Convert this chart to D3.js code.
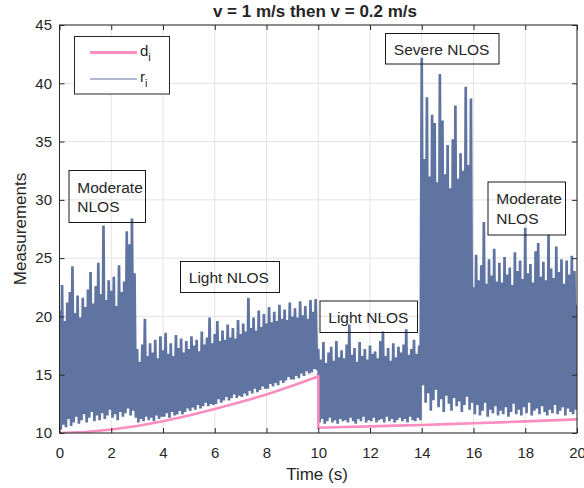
<!DOCTYPE html>
<html><head><meta charset="utf-8">
<script src="https://cdn.jsdelivr.net/npm/d3@7"></script>
<style>
body{margin:0;background:#fff}
svg{display:block}
text{font-family:"Liberation Sans",Arial,Helvetica,sans-serif;fill:#262626}
</style>
</head><body>
<svg id="chart" width="584" height="488"></svg>
<script>
// ---------- data ----------
const titleText = "v = 1 m/s then v = 0.2 m/s";
const xLabelText = "Time (s)";
const yLabelText = "Measurements";
const xTickValues = [0, 2, 4, 6, 8, 10, 12, 14, 16, 18, 20];
const yTickValues = [10, 15, 20, 25, 30, 35, 40, 45];

// true distance d_i (s, value)
const dTime = [0, 1, 2, 3, 4, 5, 6, 7, 8, 9, 10, 10, 11, 12, 13, 14, 15, 16, 17, 18, 19, 20];
const dValue = [10.0, 10.08, 10.3, 10.6, 11.0, 11.5, 12.05, 12.65, 13.3, 14.05, 14.85,
                10.45, 10.52, 10.57, 10.63, 10.69, 10.76, 10.83, 10.91, 11.0, 11.08, 11.17];

// measured range r_i: sample interval, local peaks (at t = k*step) and troughs (at t = k*step + step/2)
const rStep = 0.1;
const rPeaks = [
  // 0 - 3 s  (moderate NLOS)
  20.5, 22.7, 19.6, 21.2, 22.1, 24.3, 20.3, 21.8, 19.9, 21.6,
  20.8, 22.3, 23.8, 21.1, 22.6, 24.6, 21.9, 27.8, 21.4, 23.1,
  22.2, 23.4, 20.9, 24.4, 22.1, 23.0, 27.3, 26.2, 28.4, 23.7,
  // 3 - 10 s (light NLOS)
  17.2, 16.1, 17.6, 19.8, 16.6, 17.7, 16.9, 18.0, 16.4, 18.3,
  17.1, 18.6, 16.8, 17.7, 16.6, 18.4, 17.3, 18.1, 16.9, 17.9,
  17.2, 18.3, 17.5, 18.0, 17.0, 18.7, 17.6, 18.2, 19.9, 17.7,
  18.5, 19.6, 17.9, 18.8, 18.0, 19.3, 18.2, 19.0, 18.1, 19.7,
  18.5, 19.4, 18.7, 21.6, 19.0, 19.9, 18.8, 20.5, 19.1, 20.2,
  19.4, 20.8, 19.5, 20.4, 19.6, 21.0, 19.8, 20.6, 19.7, 21.2,
  20.0, 20.7, 19.9, 21.3, 20.1, 20.9, 19.8, 21.4, 20.4, 21.5,
  // 10 - 14 s (light NLOS)
  17.2, 16.3, 17.8, 16.0, 16.9, 17.4, 16.2, 17.9, 16.5, 17.1,
  16.4, 17.6, 19.3, 16.7, 17.3, 16.1, 17.8, 16.6, 17.2, 16.3,
  17.5, 16.8, 17.0, 16.4, 17.9, 18.7, 16.6, 17.3, 16.2, 17.7,
  16.5, 17.4, 16.9, 17.6, 18.9, 16.7, 17.2, 18.0, 16.8, 17.5,
  // 14 - 16 s (severe NLOS)
  42.2, 33.5, 38.8, 32.0, 37.3, 36.6, 31.5, 40.8, 36.8, 32.2,
  34.7, 31.0, 35.2, 38.1, 31.8, 34.0, 32.5, 39.7, 33.0, 38.7,
  // 16 - 20 s (moderate NLOS)
  22.5, 25.3, 23.1, 24.4, 28.1, 22.8, 24.9, 23.5, 25.8, 23.0,
  24.6, 22.9, 25.1, 23.6, 24.2, 22.7, 25.5, 23.9, 24.8, 23.2,
  27.6, 23.7, 24.5, 22.9, 25.6, 26.3, 23.4, 24.7, 23.1, 27.0,
  24.1, 23.3, 26.0, 23.8, 24.9, 22.8, 24.8, 23.6, 25.2, 23.9,
  21.0
];
const rTroughs = [
  10.3, 10.7, 10.5, 11.2, 10.6, 10.9, 11.4, 10.8, 11.1, 11.6,
  10.9, 11.3, 11.8, 11.0, 11.5, 11.1, 11.7, 11.2, 11.5, 12.0,
  11.3, 11.6, 11.1, 11.8, 11.4, 11.7, 12.1, 11.5, 11.9, 11.3,
  10.9, 11.2, 11.0, 11.4, 11.1, 11.3, 11.0, 11.5, 11.2, 11.4,
  11.4, 11.7, 11.3, 11.8, 11.5, 11.6, 11.9, 11.6, 11.8, 12.1,
  11.9, 12.2, 12.0, 12.4, 12.1, 12.3, 12.6, 12.3, 12.5, 12.4,
  12.5, 12.9, 12.6, 12.8, 13.1, 12.8, 13.0, 13.3, 13.0, 13.2,
  13.1, 13.4, 13.2, 13.6, 13.4, 13.8, 13.5, 13.7, 14.0, 13.8,
  13.8, 14.2, 14.0, 14.3, 14.1, 14.5, 14.3, 14.5, 14.8, 14.6,
  14.6, 14.9, 14.7, 15.1, 14.9, 15.3, 15.1, 15.2, 15.5, 15.4,
  10.9, 11.2, 10.8, 11.0, 11.3, 10.9, 11.1, 10.8, 11.2, 11.0,
  11.1, 10.9, 11.3, 11.0, 10.8, 11.2, 11.0, 11.4, 10.9, 11.1,
  11.0, 11.3, 10.9, 11.1, 11.2, 10.9, 11.4, 11.0, 11.2, 10.9,
  11.1, 11.3, 11.0, 11.2, 10.9, 11.4, 11.1, 11.0, 11.3, 11.1,
  14.1, 12.6, 13.4, 11.9, 12.8, 13.7, 12.2, 12.9, 11.8, 13.2,
  12.5, 11.9, 13.0, 12.3, 12.7, 11.8, 12.4, 13.1, 12.0, 12.6,
  11.6, 12.4, 11.5, 11.9, 12.6, 11.4, 12.0, 11.7, 12.3, 11.5,
  11.9, 11.6, 12.2, 11.4, 11.8, 12.5, 11.6, 12.0, 11.5, 12.2,
  11.7, 12.6, 11.5, 11.9, 12.1, 11.6, 12.3, 11.8, 11.5, 12.0,
  11.7, 12.4, 11.6, 11.9, 12.2, 11.5, 12.1, 11.8, 11.6, 12.0
];

const legendLabels = ["d", "r"];
const annotations = [
  {lines: ["Moderate", "NLOS"], box: [69, 170.5, 76.5, 52]},
  {lines: ["Light NLOS"], box: [180.5, 261.5, 99, 31]},
  {lines: ["Severe NLOS"], box: [385.5, 33.5, 113.5, 30.5]},
  {lines: ["Moderate", "NLOS"], box: [488, 182, 77.5, 53]},
  {lines: ["Light NLOS"], box: [320, 301, 97.5, 31.5]}
];

// ---------- layout ----------
const plot = {left: 59.5, right: 577, top: 25, bottom: 433};
const colR = "#6074a1", colD = "#fb8dc1", axisCol = "#262626", gridCol = "#e3e3e3";

const svg = d3.select("#chart");
const x = d3.scaleLinear().domain([0, 20]).range([plot.left, plot.right]);
const y = d3.scaleLinear().domain([10, 45]).range([plot.bottom, plot.top]);

svg.append("defs").append("clipPath").attr("id", "clip")
  .append("rect").attr("x", plot.left).attr("y", plot.top)
  .attr("width", plot.right - plot.left).attr("height", plot.bottom - plot.top);

// grid
const grid = svg.append("g");
grid.selectAll(".gx").data(xTickValues).join("line")
  .attr("x1", d => x(d)).attr("x2", d => x(d))
  .attr("y1", plot.top).attr("y2", plot.bottom)
  .attr("stroke", gridCol).attr("stroke-width", 1);
grid.selectAll(".gy").data(yTickValues).join("line")
  .attr("x1", plot.left).attr("x2", plot.right)
  .attr("y1", d => y(d)).attr("y2", d => y(d))
  .attr("stroke", gridCol).attr("stroke-width", 1);

// r_i series
const rPoints = [];
rTroughs.forEach((v, k) => {
  rPoints.push([k * rStep, rPeaks[k]]);
  rPoints.push([k * rStep + rStep / 2, v]);
});
rPoints.push([rTroughs.length * rStep, rPeaks[rTroughs.length]]);

const line = d3.line().x(d => x(d[0])).y(d => y(d[1]));
const dataG = svg.append("g").attr("clip-path", "url(#clip)");
dataG.append("path").datum(rPoints)
  .attr("d", line).attr("fill", "none")
  .attr("stroke", colR).attr("stroke-width", 2.7)
  .attr("stroke-linejoin", "miter").attr("stroke-miterlimit", 1.2);

// d_i series
const dPoints = dTime.map((t, i) => [t, dValue[i]]);
dataG.append("path").datum(dPoints)
  .attr("d", line).attr("fill", "none")
  .attr("stroke", colD).attr("stroke-width", 2.6);

// axes
const fsTick = "15px";
const axB = d3.axisBottom(x).tickValues(xTickValues).tickSizeInner(-5).tickSizeOuter(0).tickPadding(14);
const axT = d3.axisTop(x).tickValues(xTickValues).tickSizeInner(-5).tickSizeOuter(0).tickFormat("");
const axL = d3.axisLeft(y).tickValues(yTickValues).tickSizeInner(-5).tickSizeOuter(0).tickPadding(7.5);
const axR = d3.axisRight(y).tickValues(yTickValues).tickSizeInner(-5).tickSizeOuter(0).tickFormat("");

function styleAxis(g) {
  g.select(".domain").remove();
  g.selectAll("line").attr("stroke", axisCol);
  g.selectAll("text").attr("fill", axisCol).style("font-size", fsTick)
   .style("font-family", '"Liberation Sans", Arial, sans-serif');
}
svg.append("g").attr("transform", `translate(0,${plot.bottom})`).call(axB).call(styleAxis)
  .selectAll("text").attr("dy", "0.71em");
svg.append("g").attr("transform", `translate(0,${plot.top})`).call(axT).call(styleAxis);
svg.append("g").attr("transform", `translate(${plot.left},0)`).call(axL).call(styleAxis);
svg.append("g").attr("transform", `translate(${plot.right},0)`).call(axR).call(styleAxis);

// frame
svg.append("rect").attr("x", plot.left).attr("y", plot.top)
  .attr("width", plot.right - plot.left).attr("height", plot.bottom - plot.top)
  .attr("fill", "none").attr("stroke", axisCol).attr("stroke-width", 1);

// title & labels
svg.append("text").attr("x", 315).attr("y", 17).attr("text-anchor", "middle")
  .style("font-size", "17px").style("font-weight", "bold").text(titleText);
svg.append("text").attr("x", 317).attr("y", 480).attr("text-anchor", "middle")
  .style("font-size", "17px").text(xLabelText);
svg.append("text").attr("transform", `translate(26,${(plot.top + plot.bottom) / 2}) rotate(-90)`)
  .attr("text-anchor", "middle").style("font-size", "17px").text(yLabelText);

// legend
const lg = svg.append("g");
lg.append("rect").attr("x", 74.5).attr("y", 36.5).attr("width", 95).attr("height", 57.5)
  .attr("fill", "#fff").attr("stroke", axisCol).attr("stroke-width", 1);
const legendColors = [colD, colR], legendWidths = [3, 1], legendY = [52.5, 79];
legendLabels.forEach((lab, i) => {
  lg.append("line").attr("x1", 90).attr("x2", 137).attr("y1", legendY[i]).attr("y2", legendY[i])
    .attr("stroke", legendColors[i]).attr("stroke-width", legendWidths[i]);
  const t = lg.append("text").attr("x", 140).attr("y", legendY[i] + 3).style("font-size", "15px");
  t.append("tspan").text(lab);
  t.append("tspan").attr("dy", 5).style("font-size", "11px").text("i");
});

// annotations
const an = svg.append("g");
annotations.forEach(a => {
  const [bx, by, bw, bh] = a.box;
  an.append("rect").attr("x", bx).attr("y", by).attr("width", bw).attr("height", bh)
    .attr("fill", "none").attr("stroke", "#1a1a1a").attr("stroke-width", 1);
  const n = a.lines.length;
  a.lines.forEach((l, i) => {
    const base = n === 1 ? by + bh / 2 + 6 : by + 22 + i * 19.5;
    an.append("text").attr("x", bx + 8.3).attr("y", base).style("font-size", "15.5px").text(l);
  });
});
</script>
</body></html>
